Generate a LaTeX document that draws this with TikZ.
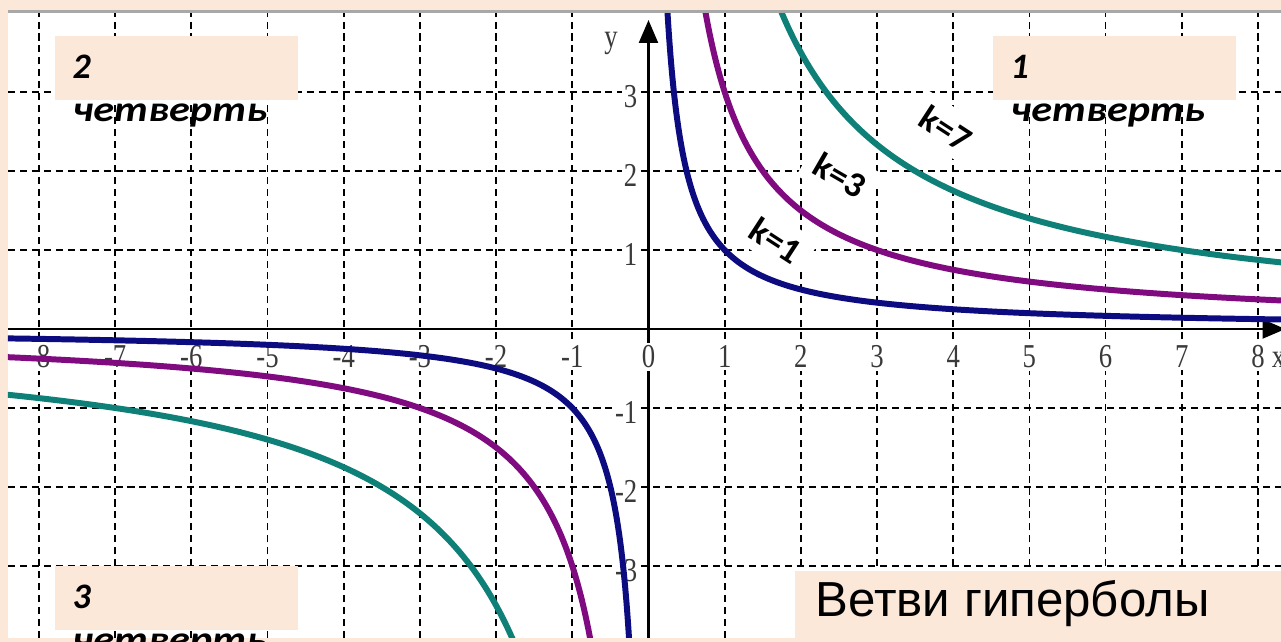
\documentclass[tikz,border=0pt]{standalone}
\usepackage{fontspec}
\usepackage{xcolor}
\usepackage{tikz}
\usetikzlibrary{arrows.meta, positioning, calc}
\setmainfont{Liberation Sans}
\newfontfamily\calfont{Carlito}
\newfontfamily\timesfont{Liberation Serif}
\definecolor{fon}{HTML}{FBE8D9}
\definecolor{sinij}{HTML}{0C0C80}
\definecolor{lilovyj}{HTML}{800A80}
\definecolor{birjuza}{HTML}{0F8078}
\definecolor{tsifry}{HTML}{3A3A3A}
\definecolor{ramka}{HTML}{A8A8A8}
\tikzset{
  setka/.style={dash pattern=on 2pt off 1.4pt, line width=0.5pt, color=black},
  os/.style={line width=0.6pt, color=black, -{Triangle[length=6.5pt, width=5.4pt]}},
  vetv/.style={line width=1.7pt, smooth, samples=120},
  podpis/.style={font=\timesfont\fontsize{9.5}{11}\selectfont, text=tsifry,
    fill=white, inner sep=0.8pt, xscale=0.8},
  plashka/.style={rectangle, fill=fon, draw=none, inner sep=0pt,
    anchor=north west, minimum width=2.43cm, minimum height=0.64cm},
  chetv/.style={font=\calfont\bfseries\itshape\fontsize{10.2}{12.2}\selectfont,
    inner sep=0pt, anchor=base west},
  slovo/.style={chetv, xscale=1.18},
  kmetka/.style={font=\calfont\bfseries\fontsize{10.2}{12}\selectfont, fill=white,
    inner sep=0pt, minimum width=7.5mm, minimum height=4.4mm},
  zagolovok/.style={font=\fontsize{14}{16}\selectfont, inner sep=0pt, anchor=base west}
}
\begin{document}
\begin{tikzpicture}[x=0.7619cm, y=0.79cm]
    \useasboundingbox (-8.512,-3.962) rectangle (8.302,4.165);
    % Fond et zone blanche
    \fill[fon] (-8.512,-3.962) rectangle (8.302,4.165);
    \fill[white] (-8.407,-3.911) rectangle (8.302,4.0);
    \draw[ramka, line width=0.8pt] (-8.407,4.02) -- (8.302,4.02);

    \begin{scope}
      \clip (-8.407,-3.911) rectangle (8.302,4.0);
      % Setka
      \foreach \i in {-8,...,-1,1,2,...,8}
        \draw[setka] (\i,-3.911) -- (\i,4.0);
      \foreach \j in {-3,-2,-1,1,2,3}
        \draw[setka] (-8.407,\j) -- (8.302,\j);

      % Osi
      \coordinate (xg) at (-8.407,0);
      \coordinate (xd) at (8.36,0);
      \coordinate (yn) at (0,-3.911);
      \coordinate (yv) at (0,3.911);
      \draw[os] (xg) -- (xd);
      \draw[os] (yn) -- (yv);

      % Podpisi delenij
      \foreach \i in {-8,...,8}
        \node[podpis] (tx\i) at (\i,-0.35) {\i};
      \foreach \j in {-3,-2,-1,1,2,3}
        \node[podpis, anchor=east] (ty\j) at (-0.11,\j-0.06) {\j};
      \node[podpis] (ny) at (-0.49,3.61) {y};
      \node[podpis, fill=none] (nx) at (8.27,-0.39) {x};

      % Metki k
      \node[kmetka, rotate=-33] (k7) at (3.905,2.544) {k=7};
      \node[kmetka, rotate=-30] (k3) at (2.513,1.949) {k=3};
      \node[kmetka, rotate=-33] (k1) at (1.673,1.127) {k=1};

      % Vetvi giperboly y=k/x
      \foreach \k/\c in {1/sinij, 3/lilovyj, 7/birjuza} {
        \draw[vetv, \c] plot[domain=ln(\k/4.05):2.13, variable=\t]
          ({exp(\t)},{\k/exp(\t)});
        \draw[vetv, \c] plot[domain=ln(\k/3.96):2.14, variable=\t]
          ({-exp(\t)},{-\k/exp(\t)});
      }
    \end{scope}

    % Chetverti
    \node[plashka] (q2) at (-7.803,3.722) {};
    \node[chetv] (q2a) at ([xshift=1.8mm, yshift=-4.4mm]q2.north west) {2};
    \node[slovo] (q2b) at ([yshift=-4.3mm]q2a.base west) {четверть};

    \node[plashka] (q1) at (4.508,3.722) {};
    \node[chetv] (q1a) at ([xshift=1.8mm, yshift=-4.4mm]q1.north west) {1};
    \node[slovo] (q1b) at ([yshift=-4.3mm]q1a.base west) {четверть};

    \node[plashka] (q3) at (-7.803,-2.987) {};
    \node[chetv] (q3a) at ([xshift=1.8mm, yshift=-4.4mm]q3.north west) {3};
    \node[slovo] (q3b) at ([yshift=-4.3mm]q3a.base west) {четверть};

    % Zagolovok
    \node[plashka, minimum width=4.87cm, minimum height=0.72cm] (zag) at (1.910,-3.051) {};
    \node[zagolovok] (zagt) at ([xshift=2.1mm, yshift=-4.6mm]zag.north west) {Ветви гиперболы};
  \end{tikzpicture}
\end{document}
